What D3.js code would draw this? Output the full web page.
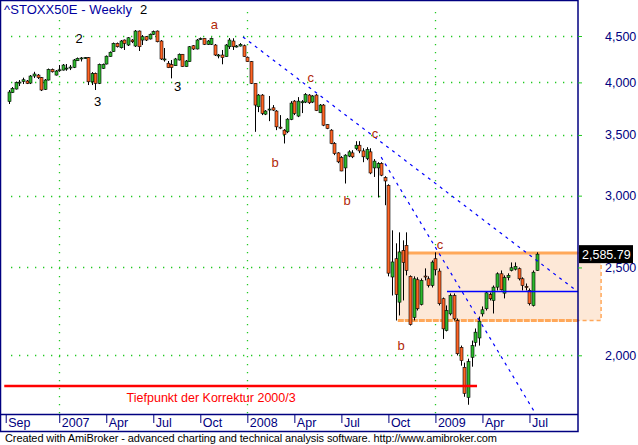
<!DOCTYPE html>
<html>
<head>
<meta charset="utf-8">
<script src="https://cdn.jsdelivr.net/npm/d3@7"></script>
<style>
  body { margin: 0; background: #fff; }
  svg { display: block; font-family: "Liberation Sans", Arial, sans-serif; }
</style>
</head>
<body>
<svg width="638" height="445"></svg>
<script>
// ---- weekly candles, ^STOXX50E, first bar = week ending 29 Sep 2006
const opens = [3810,3898,3933,3998,4009,4014,3993,4065,4075,4048, 3930,4024,4134,4075,4124,4127,4143,4148,4156,4226,
  4250,4256,4259,4006,4092,3990,4145,4191,4271,4325, 4417,4368,4454,4398,4454,4387,4557,4454,4492,4466,
  4520,4557,4443,4240,4199,4186,4173,4234,4296,4163, 4216,4390,4354,4466,4474,4406,4406,4398,4283,4288,
  4270,4379,4443,4379,4387,4390,4264,4216,3990,3760, 3873,3690,3731,3750,3719,3570,3543,3528,3641,3814,
  3672,3798,3805,3873,3805,3873,3703,3776,3593,3543, 3425,3344,3305,3219,3317,3344,3381,3410,3361,3297,
  3353,3219,3219,3255,3141,3080,2440,2556,2289,2611, 2644,2444,2202,2423,2276,2446,2429,2388,2556,2477,
  2309,2130,2222,2328,2185,2041,1940,1797,1990,2067, 2090,2222,2251,2334,2299,2378,2460,2342,2436,2481,
  2489,2492,2429,2382,2358,2270,2481];
const highs = [3923,3953,4009,4024,4048,4024,4075,4109,4086,4055, 4034,4143,4143,4127,4180,4191,4191,4180,4245,4261,
  4266,4266,4266,4106,4101,4196,4196,4283,4327,4426, 4426,4454,4460,4488,4465,4569,4563,4511,4500,4529,
  4563,4563,4454,4365,4223,4234,4256,4305,4299,4234, 4387,4398,4466,4483,4477,4454,4483,4409,4299,4343,
  4409,4477,4474,4398,4420,4403,4272,4223,3993,3883, 3883,3728,3864,3776,3728,3681,3552,3653,3814,3824,
  3853,3824,3893,3883,3873,3883,3786,3786,3597,3552, 3437,3350,3317,3333,3367,3367,3445,3445,3384,3393,
  3384,3292,3266,3266,3152,3088,2747,2658,2733,2678, 2733,2450,2444,2438,2431,2494,2444,2545,2598,2494,
  2316,2270,2340,2340,2196,2050,1963,1983,2076,2141, 2207,2264,2352,2346,2388,2469,2481,2450,2463,2532,
  2532,2500,2438,2400,2370,2481,2598];
const lows = [3786,3893,3928,3963,3983,3983,3983,4044,4034,3913, 3923,4019,4101,4070,4109,4122,4120,4127,4148,4223,
  4218,4245,3973,3973,3923,3983,4138,4186,4267,4321, 4370,4359,4343,4387,4420,4376,4332,4398,4443,4460,
  4511,4428,4234,4216,4148,4041,4170,4229,4159,4159, 4213,4343,4349,4454,4398,4398,4398,4277,4252,4188,
  4267,4354,4343,4370,4381,4267,4213,3983,3528,3709, 3681,3681,3625,3719,3543,3552,3425,3516,3634,3681,
  3662,3700,3795,3786,3795,3719,3700,3579,3552,3419, 3325,3258,3192,3094,3308,3300,3367,3342,3266,3283,
  3168,3146,2986,3152,2928,2444,2328,2185,2213,2299, 2450,2157,2185,2241,2270,2419,2376,2376,2450,2270,
  2085,2125,2213,2185,1999,1948,1800,1764,1943,2045, 2050,2207,2241,2299,2224,2358,2358,2311,2419,2475,
  2481,2419,2358,2358,2270,2264,2478];
const closes = [3903,3940,4000,4003,4027,3990,4065,4086,4048,3923, 4024,4134,4109,4117,4130,4180,4148,4159,4234,4252,
  4256,4259,4006,4092,3990,4188,4188,4275,4318,4417, 4379,4443,4417,4480,4435,4557,4379,4492,4454,4520,
  4551,4435,4245,4245,4152,4154,4245,4296,4163,4223, 4379,4354,4454,4471,4406,4443,4474,4288,4288,4259,
  4398,4454,4379,4387,4406,4270,4216,3990,3776,3873, 3697,3719,3738,3728,3573,3561,3504,3643,3795,3697,
  3814,3808,3880,3798,3864,3723,3776,3588,3558,3425, 3339,3269,3194,3325,3353,3311,3410,3361,3311,3373,
  3178,3275,3255,3160,3114,2464,2535,2334,2600,2532, 2481,2163,2429,2251,2419,2440,2388,2534,2485,2280,
  2139,2241,2328,2194,2008,1973,1816,1968,2050,2121, 2181,2245,2344,2309,2378,2460,2362,2436,2450,2498,
  2507,2429,2388,2378,2280,2470,2585.79];

const yTicks = [2000, 2500, 3000, 3500, 4000, 4500];
// month labels: bar index of the first week in each month
const monthLabels = ["Sep", "2007", "Apr", "Jul", "Oct", "2008", "Apr", "Jul", "Oct", "2009", "Apr", "Jul"];
const monthBars = [-0.8, 14, 27, 40, 53, 66, 79, 92, 105, 118, 131, 144];
const yearBars = [14, 66, 118];

// Elliott wave marks [text, bar, level]
const waveText = ["2", "3", "3", "a", "b", "c", "b", "c", "b", "c"];
const waveBar = [19.5, 24.6, 46.7, 56.9, 73.7, 83.5, 93.6, 101.3, 108.5, 119.3];
const waveLevel = [4477, 3808, 3956, 4640, 3266, 4050, 2967, 3519, 2051, 2651];

// trend lines [bar, level] pairs
const trendA = [[64.8, 4489], [156.9, 2358]];
const trendB = [[103.0, 3308], [145.5, 1729]];
const resistBar = 121.2, resistLevel = 2352;
const zone = { fromBar: 107.6, toBar: 163.8, top: 2593, bottom: 2185 };
const lowLevel = 1849.64, lowFrom = -1.2, lowTo = 129.5;
const lastClose = closes[closes.length - 1];

const svg = d3.select('svg');
const plot = { left: 2, right: 578, top: 2, bottom: 414 };
const navy = '#000080';

const x = d3.scaleLinear().domain([0, 146]).range([8.6, 536.7]);
const y = d3.scaleLog().domain([2000, 4500]).range([355.3, 36]);

svg.append('clipPath').attr('id', 'plotClip')
    .append('rect')
    .attr('x', plot.left).attr('y', plot.top)
    .attr('width', plot.right - plot.left).attr('height', plot.bottom - plot.top);

// ---- Grid
const grid = svg.append('g')
    .attr('stroke', '#22c922')
    .attr('stroke-width', 1.3)
    .attr('stroke-dasharray', '1.3,6.7');

grid.selectAll('.gh')
    .data(yTicks)
    .join('line')
    .attr('class', 'gh')
    .attr('x1', plot.left + 9).attr('x2', plot.right)
    .attr('y1', d => Math.round(y(d)) + 0.5)
    .attr('y2', d => Math.round(y(d)) + 0.5);

grid.selectAll('.gv')
    .data(yearBars)
    .join('line')
    .attr('class', 'gv')
    .attr('x1', d => Math.round(x(d)) + 0.5)
    .attr('x2', d => Math.round(x(d)) + 0.5)
    .attr('y1', plot.top + 10).attr('y2', plot.bottom);

// ---- Zone
const zoneG = svg.append('g');
zoneG.append('rect')
    .attr('x', x(zone.fromBar)).attr('y', y(zone.top))
    .attr('width', x(zone.toBar) - x(zone.fromBar))
    .attr('height', y(zone.bottom) - y(zone.top))
    .attr('fill', '#fde8d7');
zoneG.append('path')
    .attr('d', `M${plot.right},${y(zone.top)}H${x(zone.toBar)}V${y(zone.bottom)}H${plot.right}`)
    .attr('fill', 'none')
    .attr('stroke', '#ffa85a')
    .attr('stroke-width', 1.5)
    .attr('stroke-dasharray', '4,3');
zoneG.append('line')
    .attr('x1', x(zone.fromBar)).attr('x2', plot.right)
    .attr('y1', y(zone.top)).attr('y2', y(zone.top))
    .attr('stroke', '#ffa85a').attr('stroke-width', 3);
zoneG.append('line')
    .attr('x1', x(zone.fromBar)).attr('x2', plot.right)
    .attr('y1', y(zone.bottom)).attr('y2', y(zone.bottom))
    .attr('stroke', '#ffa85a').attr('stroke-width', 3)
    .attr('stroke-dasharray', '6,1');

// ---- Candles
const bars = d3.range(closes.length).map(i => ({
    i, o: opens[i], h: highs[i], l: lows[i], c: closes[i]
}));

const candles = svg.append('g').attr('clip-path', 'url(#plotClip)');

candles.selectAll('.wick')
    .data(bars)
    .join('line')
    .attr('class', 'wick')
    .attr('x1', d => Math.round(x(d.i)) + 0.5)
    .attr('x2', d => Math.round(x(d.i)) + 0.5)
    .attr('y1', d => y(d.h))
    .attr('y2', d => y(d.l))
    .attr('stroke', '#000')
    .attr('stroke-width', 1);

candles.selectAll('.body')
    .data(bars)
    .join('rect')
    .attr('class', 'body')
    .attr('x', d => Math.round(x(d.i)) - 1)
    .attr('width', 3)
    .attr('y', d => y(Math.max(d.o, d.c)))
    .attr('height', d => Math.max(1, Math.abs(y(d.o) - y(d.c))))
    .attr('fill', d => d.c >= d.o ? '#2db82d' : '#ff6424')
    .attr('stroke', '#000')
    .attr('stroke-width', 0.6);

// ---- Trend lines
const lines = svg.append('g').attr('clip-path', 'url(#plotClip)');
[trendA, trendB].forEach(t => {
    lines.append('line')
        .attr('x1', x(t[0][0])).attr('y1', y(t[0][1]))
        .attr('x2', x(t[1][0])).attr('y2', y(t[1][1]))
        .attr('stroke', '#0000ff')
        .attr('stroke-width', 1.2)
        .attr('stroke-dasharray', '3,4.5');
});
lines.append('line')
    .attr('x1', x(resistBar)).attr('x2', plot.right)
    .attr('y1', y(resistLevel)).attr('y2', y(resistLevel))
    .attr('stroke', '#0000ff').attr('stroke-width', 1.5);

// ---- 2000/3 low
lines.append('line')
    .attr('x1', x(lowFrom)).attr('x2', x(lowTo))
    .attr('y1', y(lowLevel)).attr('y2', y(lowLevel))
    .attr('stroke', '#ff0000').attr('stroke-width', 2.5);
svg.append('text')
    .attr('x', x(56)).attr('y', y(lowLevel) + 16)
    .attr('text-anchor', 'middle')
    .attr('fill', '#ff0000')
    .style('font-size', '12.5px')
    .text('Tiefpunkt der Korrektur 2000/3');

// ---- Wave labels
svg.append('g').selectAll('text')
    .data(waveText)
    .join('text')
    .attr('x', (d, k) => x(waveBar[k]))
    .attr('y', (d, k) => y(waveLevel[k]))
    .attr('dy', '0.36em')
    .attr('text-anchor', 'middle')
    .attr('fill', d => /[abc]/.test(d) ? '#b02808' : '#000')
    .style('font-size', '13px')
    .text(d => d);

// ---- Title
svg.append('text').attr('x', 4).attr('y', 14)
    .attr('fill', '#0000a0')
    .attr('textLength', 128).attr('lengthAdjust', 'spacing')
    .style('font-size', '13px')
    .text('^STOXX50E - Weekly');
svg.append('text').attr('x', 140).attr('y', 14)
    .attr('fill', '#000')
    .style('font-size', '13px')
    .text('2');

// ---- Frame
svg.append('rect')
    .attr('x', 0.5).attr('y', 0.5)
    .attr('width', plot.right - 0.5).attr('height', 431)
    .attr('fill', 'none').attr('stroke', navy).attr('stroke-width', 1.5);

// ---- Y axis (right)
const yAxis = svg.append('g')
    .attr('transform', `translate(${plot.right},0)`)
    .call(d3.axisRight(y).tickValues(yTicks).tickFormat(d3.format(',')).tickSize(4).tickPadding(23));
yAxis.select('.domain').remove();
yAxis.selectAll('line').attr('stroke', '#22c922');
yAxis.selectAll('text').attr('fill', navy).style('font-size', '12.5px').style('font-family', '"Liberation Sans", Arial, sans-serif');

// ---- X axis (bottom band)
svg.append('line')
    .attr('x1', 0).attr('x2', plot.right)
    .attr('y1', plot.bottom + 0.5).attr('y2', plot.bottom + 0.5)
    .attr('stroke', navy).attr('stroke-width', 1.5);
const xAxis = svg.append('g')
    .attr('transform', `translate(0,${plot.bottom})`)
    .call(d3.axisBottom(x).tickValues(monthBars).tickFormat((d, k) => monthLabels[k]).tickSize(9));
xAxis.select('.domain').remove();
xAxis.selectAll('line').attr('stroke', navy);
xAxis.selectAll('text')
    .attr('text-anchor', 'start')
    .attr('x', 2).attr('y', 4)
    .attr('fill', navy)
    .style('font-size', '12.5px')
    .style('font-family', '"Liberation Sans", Arial, sans-serif');

// ---- Last price label
const lp = svg.append('g').attr('transform', `translate(579,${y(lastClose)})`);
lp.append('rect').attr('x', 0).attr('y', -9).attr('width', 54).attr('height', 18).attr('fill', '#000');
lp.append('text').attr('x', 3).attr('dy', '0.36em').attr('fill', '#fff')
    .style('font-size', '12.5px').text(d3.format(',.2f')(lastClose));

// ---- Footer
svg.append('text')
    .attr('x', 5).attr('y', 442)
    .attr('fill', '#000')
    .attr('textLength', 492)
    .style('font-size', '11px')
    .text('Created with AmiBroker - advanced charting and technical analysis software. http://www.amibroker.com');
</script>
</body>
</html>
